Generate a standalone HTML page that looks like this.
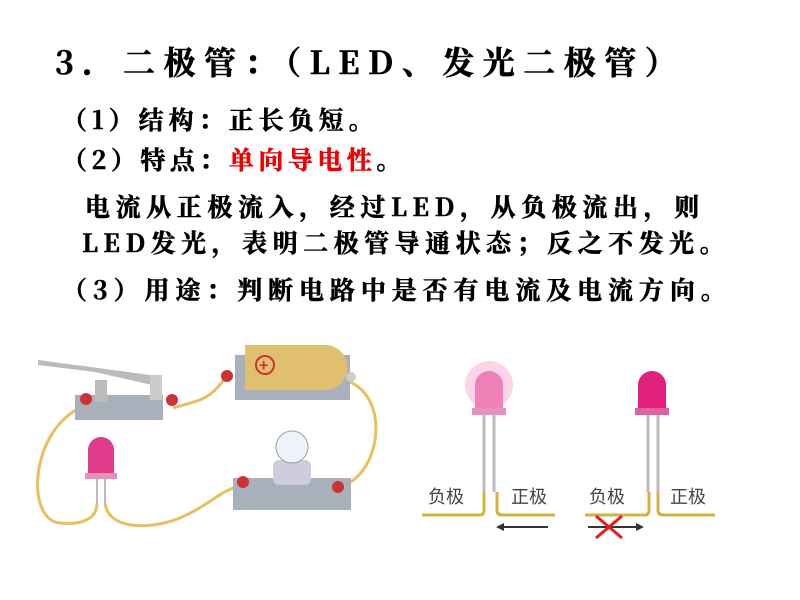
<!DOCTYPE html>
<html><head><meta charset="utf-8"><style>
body{margin:0;width:800px;height:600px;background:#fff;overflow:hidden;position:relative;font-family:"Noto Serif CJK SC","Liberation Serif",serif;font-weight:bold;color:#000}
.t{position:absolute;white-space:nowrap;line-height:1;-webkit-text-stroke:0.6px currentColor}
.t span{-webkit-text-stroke:0.6px #e00}
</style></head><body>
<div class="t" style="left:55px;top:45px;font-size:32px;letter-spacing:8.5px">3．二极管：（LED、发光二极管）</div>
<div class="t" style="left:62px;top:107px;font-size:25px;letter-spacing:5px">（1）结构：正长负短。</div>
<div class="t" style="left:62px;top:147px;font-size:25px;letter-spacing:4.5px">（2）特点：<span style="color:#e00">单向导电性</span>。</div>
<div class="t" style="left:85px;top:194px;font-size:25px;letter-spacing:5.6px">电流从正极流入，经过LED，从负极流出，则</div>
<div class="t" style="left:82px;top:230px;font-size:25px;letter-spacing:5.5px">LED发光，表明二极管导通状态；反之不发光。</div>
<div class="t" style="left:62px;top:277px;font-size:25px;letter-spacing:5.9px">（3）用途：判断电路中是否有电流及电流方向。</div>
<svg width="800" height="600" style="position:absolute;left:0;top:0" font-family="Noto Sans CJK SC,sans-serif">
<g fill="none" stroke="#e8c060" stroke-width="3">
<path d="M82 407 C30 430,25 520,60 523 C80 525,97 520,97 503"/>
<path d="M105 503 C108 530,150 530,180 518 C210 505,220 490,243 485"/>
<path d="M173 408 C200 400,210 400,225 378"/>
<path d="M350 382 C390 400,380 470,345 485"/>
</g>
<rect x="75" y="395" width="88" height="25" fill="#a8b0bc"/>
<rect x="95" y="380" width="12" height="22" fill="#bbb"/>
<path d="M38 360 L150 375 L152 385 L95 372 L38 365Z" fill="#bbb"/>
<rect x="150" y="375" width="12" height="25" fill="#ccc"/>
<circle cx="86" cy="399" r="6" fill="#c33"/><circle cx="172" cy="400" r="6" fill="#c33"/>
<rect x="235" y="355" width="115" height="45" fill="#a8b0bc"/>
<path d="M245 345 h80 a20 20 0 0 1 0 45 h-80Z" fill="#e0c070"/>
<circle cx="265" cy="365" r="9" fill="none" stroke="#c33" stroke-width="2"/>
<text x="259" y="371" fill="#c33" font-size="16">+</text>
<circle cx="227" cy="376" r="6" fill="#c33"/><circle cx="351" cy="377" r="5" fill="#ccc"/>
<rect x="233" y="478" width="118" height="32" fill="#a8b0bc"/>
<rect x="273" y="460" width="38" height="25" fill="#ccd" rx="6"/>
<circle cx="292" cy="447" r="16" fill="#eef4fa" stroke="#999"/>
<circle cx="243" cy="482" r="6" fill="#c33"/><circle cx="338" cy="487" r="6" fill="#c33"/>
<path d="M88 475 v-25 a13 13 0 0 1 26 0 v25Z" fill="#e03a8a"/>
<rect x="85" y="473" width="32" height="6" fill="#e890b8"/>
<line x1="97" y1="479" x2="97" y2="505" stroke="#bbb" stroke-width="2"/>
<line x1="105" y1="479" x2="105" y2="505" stroke="#bbb" stroke-width="2"/>
<g fill="none" stroke="#d8b040" stroke-width="3">
<path d="M422 515 H480 q4 0 4-5 V492"/><path d="M497 492 V510 q0 5 5 5 H555"/>
<path d="M585 515 H645 q4 0 4-5 V492"/><path d="M658 492 V510 q0 5 5 5 H715"/>
</g>
<g stroke="#bbb" stroke-width="3">
<line x1="484" y1="415" x2="484" y2="492"/><line x1="494" y1="415" x2="494" y2="492"/>
<line x1="648" y1="415" x2="648" y2="492"/><line x1="658" y1="415" x2="658" y2="492"/>
</g>
<circle cx="489" cy="385" r="24" fill="#f8b8d8" opacity="0.6"/>
<path d="M475 410 v-25 a14 14 0 0 1 28 0 v25Z" fill="#f080b8"/>
<rect x="472" y="408" width="34" height="7" fill="#e890c0"/>
<path d="M638 410 v-25 a14 14 0 0 1 28 0 v25Z" fill="#e0207a"/>
<rect x="635" y="408" width="34" height="7" fill="#e060a0"/>
<text x="428" y="503" font-size="18" fill="#444" font-weight="normal">负极</text>
<text x="511" y="503" font-size="18" fill="#444" font-weight="normal">正极</text>
<text x="589" y="503" font-size="18" fill="#444" font-weight="normal">负极</text>
<text x="670" y="503" font-size="18" fill="#444" font-weight="normal">正极</text>
<line x1="500" y1="527" x2="548" y2="527" stroke="#333" stroke-width="2"/>
<path d="M496 527 l8-4 v8Z" fill="#333"/>
<line x1="588" y1="527" x2="640" y2="527" stroke="#333" stroke-width="2"/>
<path d="M644 527 l-8-4 v8Z" fill="#333"/>
<path d="M596 516 L622 538 M622 516 L596 538" stroke="#e02020" stroke-width="3"/>
</svg>
</body></html>
